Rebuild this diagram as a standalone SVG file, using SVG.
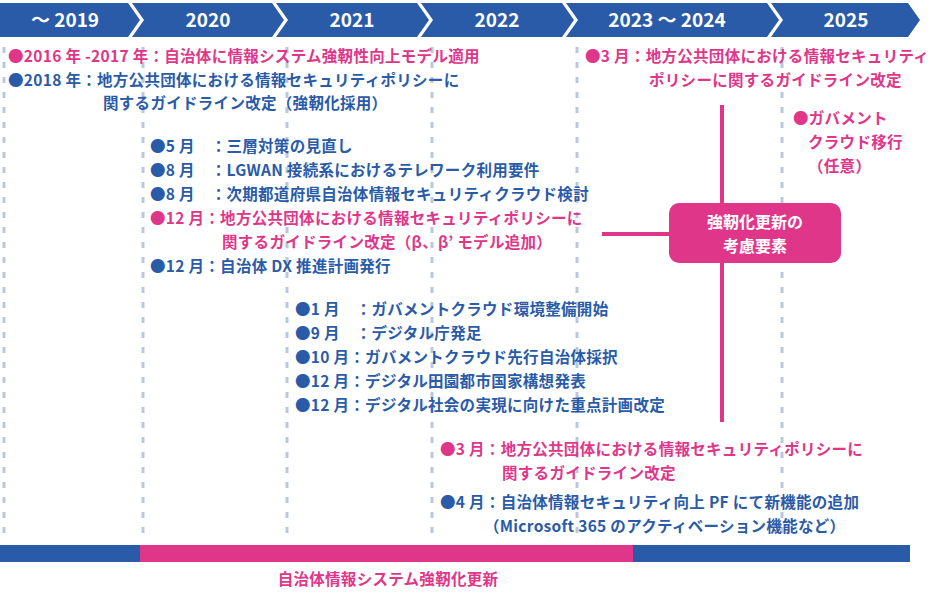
<svg xmlns="http://www.w3.org/2000/svg" width="931" height="593" viewBox="0 0 931 593">
<style>
.h{fill:#2a5ba8}
.ht{fill:#fff;font:bold 19px "Noto Sans CJK JP","Liberation Sans",sans-serif;text-anchor:middle}
.t{font:bold 15.5px "Noto Sans CJK JP",sans-serif;letter-spacing:0.3px}
.b{fill:#2a5ba8}.p{fill:#e0368a}
.d{stroke:#b9c8dd;stroke-width:3;stroke-dasharray:6,9}
</style>
<rect width="931" height="593" fill="#fff"/>
<g id="header">
<polygon class="h" points="0,3 128,3 140,20 128,37 0,37"/>
<polygon class="h" points="132,3 272,3 284,20 272,37 132,37 144,20"/>
<polygon class="h" points="276,3 417,3 429,20 417,37 276,37 288,20"/>
<polygon class="h" points="421,3 562,3 574,20 562,37 421,37 433,20"/>
<polygon class="h" points="566,3 767,3 779,20 767,37 566,37 578,20"/>
<polygon class="h" points="771,3 908,3 920,20 908,37 771,37 783,20"/>
<text class="ht" x="65" y="27">～ 2019</text>
<text class="ht" x="208" y="27">2020</text>
<text class="ht" x="352" y="27">2021</text>
<text class="ht" x="497" y="27">2022</text>
<text class="ht" x="667" y="27">2023 ～ 2024</text>
<text class="ht" x="846" y="27">2025</text>
</g>
<g id="gridlines">
<line class="d" x1="4" y1="47" x2="4" y2="540"/>
<line class="d" x1="143" y1="47" x2="143" y2="540"/>
<line class="d" x1="287" y1="47" x2="287" y2="540"/>
<line class="d" x1="432" y1="47" x2="432" y2="540"/>
<line class="d" x1="577" y1="47" x2="577" y2="540"/>
<line class="d" x1="782" y1="47" x2="782" y2="540"/>
</g>
<g id="texts" class="t">
<text x="8" y="62" class="p">●2016 年 -2017 年：自治体に情報システム強靭性向上モデル適用</text>
<text x="8" y="86" class="b">●2018 年：地方公共団体における情報セキュリティポリシーに</text>
<text x="103" y="109" class="b">関するガイドライン改定（強靭化採用）</text>
<text x="150" y="152" class="b">●5 月　：三層対策の見直し</text>
<text x="150" y="176" class="b">●8 月　：LGWAN 接続系におけるテレワーク利用要件</text>
<text x="150" y="200" class="b">●8 月　：次期都道府県自治体情報セキュリティクラウド検討</text>
<text x="150" y="224" class="p">●12 月：地方公共団体における情報セキュリティポリシーに</text>
<text x="222" y="248" class="p">関するガイドライン改定（β、β’ モデル追加）</text>
<text x="150" y="272" class="b">●12 月：自治体 DX 推進計画発行</text>
<text x="295" y="315" class="b">●1 月　：ガバメントクラウド環境整備開始</text>
<text x="295" y="339" class="b">●9 月　：デジタル庁発足</text>
<text x="295" y="363" class="b">●10 月：ガバメントクラウド先行自治体採択</text>
<text x="295" y="387" class="b">●12 月：デジタル田園都市国家構想発表</text>
<text x="295" y="411" class="b">●12 月：デジタル社会の実現に向けた重点計画改定</text>
<text x="440" y="455" class="p">●3 月：地方公共団体における情報セキュリティポリシーに</text>
<text x="502" y="479" class="p">関するガイドライン改定</text>
<text x="440" y="508" class="b">●4 月：自治体情報セキュリティ向上 PF にて新機能の追加</text>
<text x="484" y="532" class="b">（Microsoft 365 のアクティベーション機能など）</text>
<text x="585" y="62" class="p">●3 月：地方公共団体における情報セキュリティ</text>
<text x="649" y="86" class="p">ポリシーに関するガイドライン改定</text>
<text x="793" y="124" class="p">●ガバメント</text>
<text x="808" y="148" class="p">クラウド移行</text>
<text x="808" y="172" class="p">（任意）</text>
</g>
<g id="connectors" stroke="#e0368a" stroke-width="4">
<line x1="722" y1="105" x2="722" y2="422"/>
<line x1="602" y1="234" x2="672" y2="234"/>
</g>
<g id="factor">
<rect x="669" y="203" width="172" height="60" rx="10" fill="#e0368a"/>
<text x="755" y="228" fill="#fff" text-anchor="middle" style="font:bold 16px 'Noto Sans CJK JP',sans-serif">強靭化更新の</text>
<text x="755" y="252" fill="#fff" text-anchor="middle" style="font:bold 16px 'Noto Sans CJK JP',sans-serif">考慮要素</text>
</g>
<g id="bottom">
<rect x="0" y="545" width="140" height="17" fill="#2a5ba8"/>
<rect x="140" y="545" width="493" height="17" fill="#e0368a"/>
<rect x="633" y="545" width="277" height="17" fill="#2a5ba8"/>
<text x="388" y="585" text-anchor="middle" class="t p">自治体情報システム強靭化更新</text>
</g>
</svg>
